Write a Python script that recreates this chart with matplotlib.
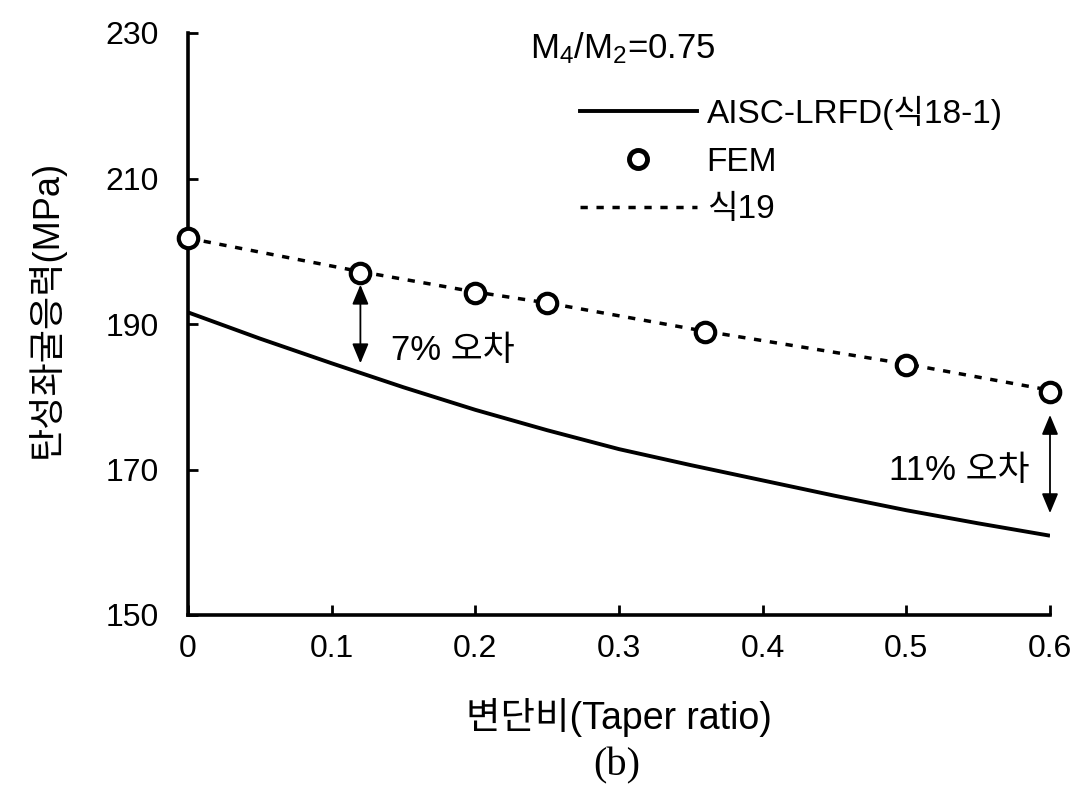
import matplotlib
matplotlib.use("Agg")
import matplotlib.pyplot as plt
from matplotlib.lines import Line2D

plt.rcParams['font.family'] = ['Liberation Sans', 'Noto Sans CJK KR']
plt.rcParams['mathtext.fontset'] = 'custom'
plt.rcParams['mathtext.rm'] = 'Liberation Sans'
plt.rcParams['mathtext.it'] = 'Liberation Sans'
plt.rcParams['mathtext.default'] = 'rm'

# AISC-LRFD (식18-1) prediction
aisc_x = [0.0, 0.05, 0.1, 0.15, 0.2, 0.25, 0.3, 0.35, 0.4, 0.45, 0.5, 0.55, 0.6]
aisc_y = [191.6, 188.0, 184.6, 181.3, 178.2, 175.4, 172.8, 170.6, 168.5, 166.4, 164.4, 162.6, 160.9]

# FEM results
fem_x = [0.0, 0.12, 0.2, 0.25, 0.36, 0.5, 0.6]
fem_y = [201.8, 197.0, 194.3, 192.9, 188.9, 184.4, 180.7]

# 식19 proposal
eq19_x = [0.0, 0.12, 0.2, 0.25, 0.36, 0.5, 0.6]
eq19_y = [201.8, 197.2, 194.4, 192.9, 189.0, 184.5, 180.9]

# Error annotations: (x, upper value, lower value)
err7 = (0.12, 195.4, 184.6)
err11 = (0.6, 177.5, 164.0)

xticks = [0, 0.1, 0.2, 0.3, 0.4, 0.5, 0.6]
xticklabels = ['0', '0.1', '0.2', '0.3', '0.4', '0.5', '0.6']
yticks = [150, 170, 190, 210, 230]

FS = 23
FS_TXT = 25

fig = plt.figure(figsize=(10.89, 7.90), dpi=100)
ax = fig.add_axes([188 / 1089, 1 - 615 / 790, (1050 - 188) / 1089, (615 - 33) / 790])

ax.plot(aisc_x, aisc_y, color='black', lw=2.8, solid_capstyle='butt')
ax.plot(eq19_x, eq19_y, color='black', lw=2.5, linestyle=(0, (2.1, 2.5)))
ax.plot(fem_x, fem_y, linestyle='none', marker='o', ms=14, mfc='white',
        mec='black', mew=3.0, clip_on=False, zorder=5)

for (xa, top, bot) in (err7, err11):
    ax.annotate('', xy=(xa, top), xytext=(xa, bot),
                arrowprops=dict(arrowstyle='<|-|>,head_length=1.2,head_width=0.5',
                                color='black', lw=1.3, shrinkA=0, shrinkB=0))

ax.text(0.141, 186.4, '7% 오차', fontsize=FS_TXT, ha='left', va='center')
ax.text(0.586, 169.9, '11% 오차', fontsize=FS_TXT, ha='right', va='center')

ax.set_xlim(0, 0.6)
ax.set_ylim(150, 230)
ax.set_xticks(xticks)
ax.set_xticklabels(xticklabels)
ax.set_yticks(yticks)
ax.tick_params(axis='both', direction='in', length=7, width=2, labelsize=FS)
ax.tick_params(axis='y', pad=21)
ax.tick_params(axis='x', pad=14)
for s in ('top', 'right'):
    ax.spines[s].set_visible(False)
for s in ('left', 'bottom'):
    ax.spines[s].set_linewidth(2.6)

ax.set_ylabel('탄성좌굴응력(MPa)', fontsize=26)
ax.yaxis.set_label_coords(-0.143, 0.526)
ax.set_xlabel('변단비(Taper ratio)', fontsize=27, labelpad=24)

fig.text(716 / 1089, 1 - 48 / 790, 'M$_4$/M$_2$=0.75', fontsize=FS_TXT,
         ha='right', va='center')

handles = [
    Line2D([], [], color='black', lw=2.8),
    Line2D([], [], linestyle='none', marker='o', ms=13, mfc='white',
           mec='black', mew=3.5),
    Line2D([], [], color='black', lw=2.5, linestyle=(0, (2.1, 2.5))),
]
labels = ['AISC-LRFD(식18-1)', 'FEM', '식19']
ax.legend(handles, labels, loc='upper left', frameon=False, fontsize=24,
          bbox_to_anchor=(580 / 1089, 1 - 96 / 790), bbox_transform=fig.transFigure,
          borderpad=0, borderaxespad=0, handlelength=3.5, handletextpad=0.3,
          labelspacing=0.5)

fig.text(617 / 1089, 1 - 766 / 790, '(b)', fontsize=29, family='Liberation Serif',
         ha='center', va='center')

fig.savefig('out.png', dpi=100)
